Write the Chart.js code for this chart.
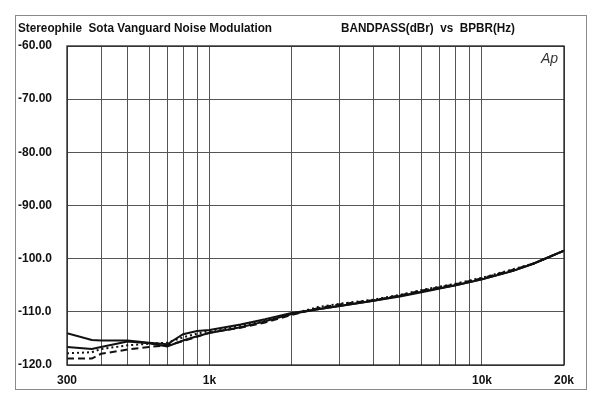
<!DOCTYPE html>
<html>
<head>
<meta charset="utf-8">
<script src="https://cdn.jsdelivr.net/npm/chart.js@4.4.1/dist/chart.umd.min.js"></script>
<style>
  html, body { margin: 0; padding: 0; background: #fff; }
  #wrap { width: 600px; height: 403px; }
</style>
</head>
<body>
<div id="wrap"><canvas id="noiseChart" width="600" height="403"></canvas></div>
<script>
// frequencies (Hz) the traces were read at
const freqs = [300, 370, 400, 500, 600, 700, 800, 900, 1000, 1300, 1600, 2000, 2500, 3000, 4000, 5000, 6000, 8000, 10000, 13000, 15500, 20000];

// bandpass level (dBr), one array per trace
const solidA = [-114.0, -115.3, -115.4, -115.4, -115.8, -116.1, -114.2, -113.6, -113.4, -112.4, -111.4, -110.2, -109.5, -108.9, -107.9, -107.0, -106.2, -105.0, -103.9, -102.3, -100.9, -98.5];
const solidB = [-116.6, -117.0, -116.6, -115.6, -115.9, -116.5, -115.4, -114.6, -114.0, -112.9, -111.8, -110.4, -109.5, -108.9, -107.9, -107.1, -106.3, -105.0, -103.9, -102.3, -100.9, -98.5];
const dashed = [-118.8, -118.8, -117.9, -117.1, -116.6, -116.3, -115.5, -114.7, -113.9, -113.0, -112.0, -110.6, -109.3, -108.6, -107.8, -106.9, -106.0, -104.8, -103.7, -102.1, -100.9, -98.5];
const dotted = [-117.8, -117.6, -117.0, -116.3, -116.0, -115.8, -114.8, -114.1, -113.6, -112.6, -111.6, -110.4, -109.1, -108.5, -107.7, -106.8, -105.9, -104.7, -103.6, -102.0, -100.9, -98.5];

// axis ticks
const xGridFreqs = [300, 400, 500, 600, 700, 800, 900, 1000, 2000, 3000, 4000, 5000, 6000, 7000, 8000, 9000, 10000, 20000];
const xTickLabels = { 300: "300", 1000: "1k", 10000: "10k", 20000: "20k" };
const yTicks = [-120, -110, -100, -90, -80, -70, -60];
const yTickLabels = ["-120.0", "-110.0", "-100.0", "-90.00", "-80.00", "-70.00", "-60.00"];

const FONT = "'Liberation Sans', Arial, Helvetica, sans-serif";

function toPoints(values) {
  return freqs.map((f, i) => ({ x: f, y: values[i] }));
}

function trace(values, width, dash) {
  return {
    data: toPoints(values),
    borderColor: "#111",
    borderWidth: width,
    borderDash: dash,
    pointRadius: 0,
    tension: 0,
    fill: false,
  };
}

// draws the frame, header texts and the "Ap" mark
const decorations = {
  id: "decorations",
  beforeDraw(chart) {
    const ctx = chart.ctx;
    ctx.save();
    ctx.fillStyle = "#fff";
    ctx.fillRect(0, 0, chart.width, chart.height);
    ctx.strokeStyle = "#8a8a8a";
    ctx.lineWidth = 1;
    ctx.strokeRect(15.5, 15.5, 571, 374);
    ctx.restore();
  },
  afterDraw(chart) {
    const ctx = chart.ctx;
    const a = chart.chartArea;
    ctx.save();
    ctx.strokeStyle = "#222";
    ctx.lineWidth = 1.3;
    ctx.strokeRect(a.left, a.top, a.right - a.left, a.bottom - a.top);

    ctx.fillStyle = "#111";
    ctx.textBaseline = "middle";
    fitText(ctx, "Stereophile  Sota Vanguard Noise Modulation", 18, 28, 254, "bold 13px " + FONT, "left");
    fitText(ctx, "BANDPASS(dBr)  vs  BPBR(Hz)", 341, 28, 174, "bold 13px " + FONT, "left");

    ctx.fillStyle = "#333";
    ctx.font = "italic 14px " + FONT;
    ctx.textAlign = "left";
    ctx.fillText("Ap", 541, 59);
    ctx.restore();
  },
};

function fitText(ctx, text, x, y, width, font, align) {
  ctx.font = font;
  const w = ctx.measureText(text).width;
  const sx = Math.min(1, width / w);
  ctx.save();
  ctx.translate(x, y);
  ctx.scale(sx, 1);
  ctx.textAlign = align;
  ctx.fillText(text, 0, 0);
  ctx.restore();
}

new Chart(document.getElementById("noiseChart"), {
  type: "line",
  data: {
    datasets: [
      trace(solidA, 2, []),
      trace(solidB, 2, []),
      trace(dashed, 2, [7, 4]),
      trace(dotted, 2, [2, 3]),
    ],
  },
  options: {
    responsive: false,
    animation: false,
    devicePixelRatio: 1,
    layout: { padding: { left: 18, right: 36, top: 46, bottom: 0 } },
    plugins: {
      legend: { display: false },
      title: { display: false },
      tooltip: { enabled: false },
    },
    scales: {
      x: {
        type: "logarithmic",
        min: 300,
        max: 20000,
        afterBuildTicks(scale) {
          scale.ticks = xGridFreqs.map((v) => ({ value: v }));
        },
        afterFit(scale) {
          scale.height = 38;
        },
        grid: { color: "#555", lineWidth: 1, drawTicks: false },
        border: { display: false },
        ticks: {
          autoSkip: false,
          maxRotation: 0,
          padding: 8,
          color: "#111",
          font: { family: FONT, size: 12, weight: "bold" },
          callback: (value) => xTickLabels[value] || "",
        },
      },
      y: {
        min: -120,
        max: -60,
        afterBuildTicks(scale) {
          scale.ticks = yTicks.map((v) => ({ value: v }));
        },
        afterFit(scale) {
          scale.width = 49;
        },
        grid: { color: "#555", lineWidth: 1, drawTicks: false },
        border: { display: false },
        ticks: {
          crossAlign: "far",
          color: "#111",
          font: { family: FONT, size: 12, weight: "bold" },
          callback: (value) => yTickLabels[yTicks.indexOf(value)],
        },
      },
    },
  },
  plugins: [decorations],
});
</script>
</body>
</html>
